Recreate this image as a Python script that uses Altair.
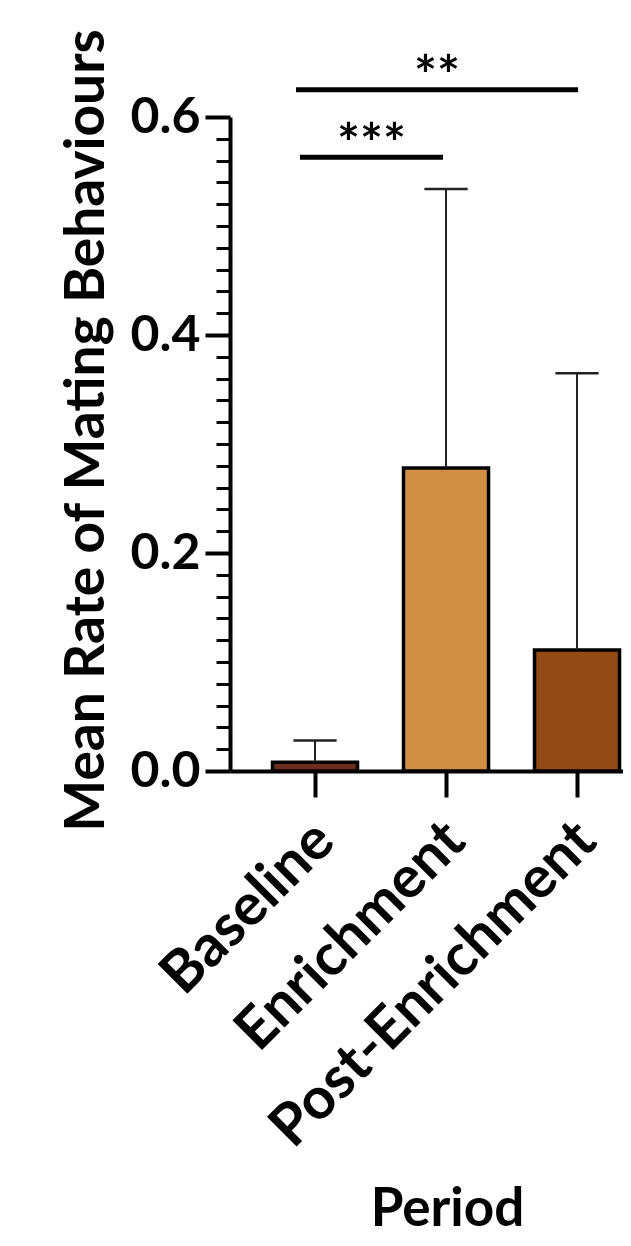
import altair as alt
import pandas as pd

# ---- data ----
periods = ["Baseline", "Enrichment", "Post-Enrichment"]
positions = [0, 1, 2]
means = [0.008, 0.278, 0.111]
upper = [0.028, 0.534, 0.365]
bar_colors = ["#6B2E1F", "#D18F45", "#944A15"]

sig_start = [-0.115, -0.145]
sig_end = [0.977, 2.008]
sig_y = [0.563, 0.625]
sig_text_y = [0.5735, 0.6355]
sig_label = ["***", "**"]

y_ticks = [round(i * 0.02, 2) for i in range(31)]

FONT = "Lato"

bars = pd.DataFrame({"period": periods, "pos": positions, "mean": means, "upper": upper})
sig = pd.DataFrame({"start": sig_start, "end": sig_end, "y": sig_y, "ty": sig_text_y, "label": sig_label})

x_scale = alt.Scale(domain=[-0.649, 2.351], nice=False, zero=False)
y_scale = alt.Scale(domain=[0, 0.6], nice=False)

major_test = "abs(round(datum.value*5) - datum.value*5) < 1e-6"

x_axis = alt.Axis(
    values=positions,
    labelExpr="['Baseline','Enrichment','Post-Enrichment'][round(datum.value)]",
    labelAngle=-45,
    labelFont=FONT, labelFontWeight="bold", labelFontSize=58, labelColor="black",
    labelPadding=14, labelOffset=-11,
    labelOverlap=False, labelBound=False, labelFlush=False, labelLimit=0,
    tickSize=26, tickWidth=4, tickColor="black", tickCount=10,
    domainWidth=4, domainColor="black", grid=False,
    title="Period", titleFont=FONT, titleFontWeight="bold", titleFontSize=53, titleColor="black",
    titleX=217, titleY=454, titleAlign="center", titleBaseline="alphabetic", titleAnchor="middle",
)

y_axis = alt.Axis(
    values=y_ticks,
    tickCount=60,
    labelExpr=f"{major_test} ? format(datum.value, '.1f') : ''",
    labelFont=FONT, labelFontWeight="bold", labelFontSize=50, labelColor="black",
    labelPadding=5, labelOverlap=False, labelBound=False, labelFlush=False, labelLimit=0,
    tickSize=alt.ConditionalAxisNumber(condition={"test": major_test, "value": 25}, value=14),
    tickWidth=alt.ConditionalAxisNumber(condition={"test": major_test, "value": 4}, value=3),
    tickColor="black",
    domainWidth=4, domainColor="black", grid=False,
    title="Mean Rate of Mating Behaviours", titleFont=FONT, titleFontWeight="bold",
    titleFontSize=55, titleColor="black", titleAngle=-90, titleLimit=0,
    titleX=-170, titleY=313, titleAlign="center", titleBaseline="top", titleAnchor="middle",
)

base = alt.Chart(bars)

bar_layer = base.transform_calculate(
    x0="datum.pos - 0.3245", x1="datum.pos + 0.3245"
).mark_bar(stroke="black", strokeWidth=3.5).encode(
    x=alt.X("x0:Q", scale=x_scale, axis=x_axis),
    x2="x1:Q",
    y=alt.Y("mean:Q", scale=y_scale, axis=y_axis),
    y2=alt.datum(0),
    color=alt.Color("period:N", scale=alt.Scale(domain=periods, range=bar_colors), legend=None),
)

whisker = base.mark_rule(color="#222222", strokeWidth=2).encode(
    x=alt.X("pos:Q", scale=x_scale),
    y=alt.Y("mean:Q", scale=y_scale),
    y2="upper:Q",
)

cap = base.transform_calculate(
    c0="datum.pos - 0.165", c1="datum.pos + 0.165"
).mark_rule(color="#222222", strokeWidth=2.5).encode(
    x=alt.X("c0:Q", scale=x_scale),
    x2="c1:Q",
    y=alt.Y("upper:Q", scale=y_scale),
)

sig_base = alt.Chart(sig)

sig_lines = sig_base.mark_rule(color="black", strokeWidth=5).encode(
    x=alt.X("start:Q", scale=x_scale),
    x2="end:Q",
    y=alt.Y("y:Q", scale=y_scale),
)

sig_text = sig_base.transform_calculate(
    mid="(datum.start + datum.end) / 2"
).mark_text(font=FONT, fontWeight="bold", fontSize=54, color="black",
            align="center", baseline="middle").encode(
    x=alt.X("mid:Q", scale=x_scale),
    y=alt.Y("ty:Q", scale=y_scale),
    text="label:N",
)

chart = alt.layer(bar_layer, whisker, cap, sig_lines, sig_text).properties(
    width=393,
    height=654,
    background="white",
    autosize=alt.AutoSizeParams(type="none"),
    padding={"left": 222, "top": 109, "right": 0, "bottom": 468},
).configure_view(stroke=None)

chart.save("out.html", embed_options={"renderer": "svg", "actions": False})
